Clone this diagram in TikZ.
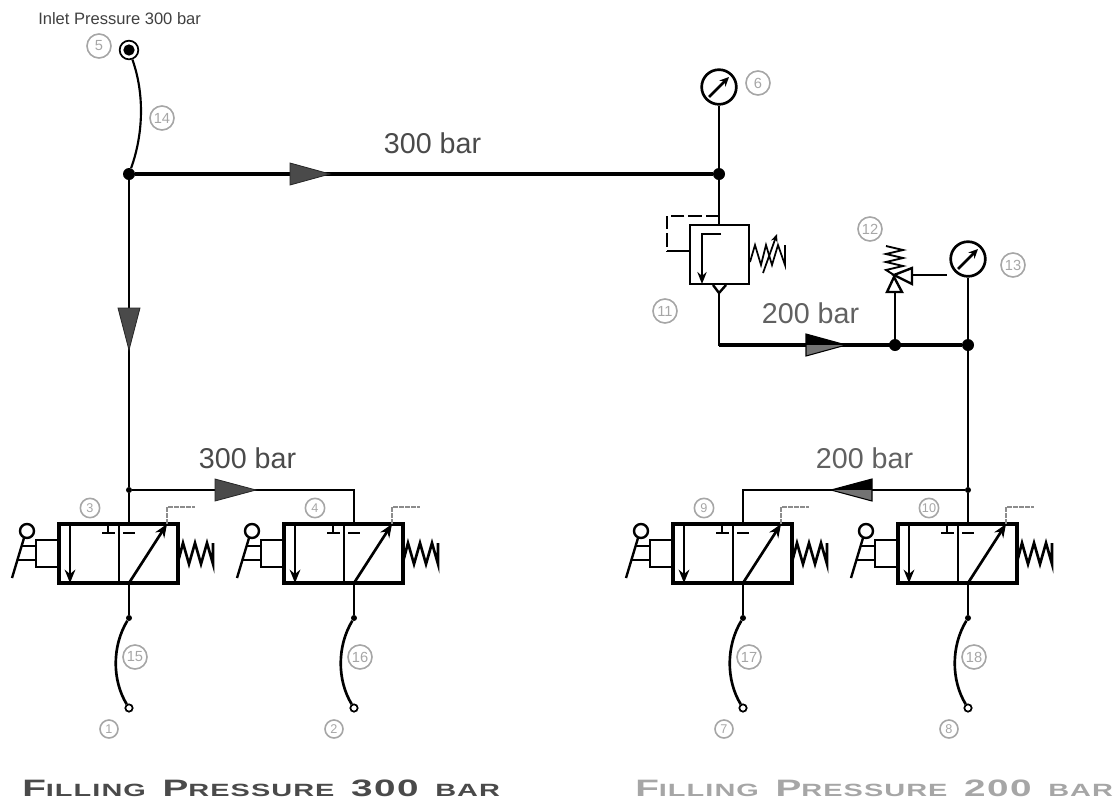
\documentclass[tikz,border=0pt]{standalone}
\usepackage{fontspec}
\setmainfont{Liberation Sans}
\newfontfamily\titlefont[FakeStretch=1.63,LetterSpace=6]{Liberation Sans}
\usetikzlibrary{arrows.meta}
\definecolor{tagc}{HTML}{A6A6A6}
\definecolor{tipc}{HTML}{4A4A4A}
\newcommand\capsmall[2]{{\fontsize{17.8}{18}\selectfont #1}{\fontsize{13.3}{14}\selectfont #2}}
\newcommand\wordgap{\hspace{12.5pt}}
\tikzset{
  wire/.style={line width=2.7pt,black},
  thin wire/.style={line width=2.2pt,black},
  sym/.style={line width=1.8pt,black,line join=miter},
  hose/.style={line width=2pt,black},
  tag/.style={circle,draw=tagc,line width=1.2pt,text=tagc,inner sep=0pt,minimum size=18pt,font=\fontsize{11}{12}\selectfont},
  tagm/.style={tag,minimum size=14.5pt,font=\fontsize{9.5}{10}\selectfont},
  tags/.style={tag,minimum size=13.5pt,font=\fontsize{9.5}{10}\selectfont},
  junction/.style={circle,fill=black,inner sep=0pt,minimum size=9pt},
  smalldot/.style={circle,fill=black,inner sep=0pt,minimum size=4.5pt},
  opendot/.style={circle,draw=black,fill=white,line width=1.3pt,inner sep=0pt,minimum size=5.5pt},
  gauge/.style={circle,draw=black,line width=2pt,fill=white,inner sep=0pt,minimum size=26pt},
  flow/.style={fill=tipc,draw=black!85,line width=0.6pt,line join=miter},
  press/.style={text=tipc,font=\fontsize{21.5}{22}\selectfont,inner sep=0pt},
  press2/.style={text=black!62,font=\fontsize{21.5}{22}\selectfont,inner sep=0pt},
  filltitle/.style={inner sep=0pt,anchor=base west},
  valve/.pic={
    \coordinate (-in) at (129,524);
    \coordinate (-out) at (129,583);
    \draw[line width=2.4pt] (59,524) rectangle (178,583);
    \draw[line width=2.1pt] (119,524) -- (119,583);
    \draw[sym,line width=2pt] (108,524) -- (108,533) (102,533) -- (115,533);
    \draw[sym,line width=2pt] (123,533) -- (135,533);
    \draw[sym,line width=2.2pt,-{Stealth[length=10pt,width=8pt]}] (70,524) -- (70,583);
    \draw[sym,line width=2pt,-{Stealth[length=10pt,width=8pt]}] (129,583) -- (167,524);
    \draw[line width=1.3pt,black!45,dash pattern=on 3.5pt off 1pt] (167,524) -- (167,507) -- (195,507);
    \draw[sym,line width=2pt] (178,562) -- (183,543) -- (189,564) -- (195,543) -- (201,564) -- (207,543) -- (213,564) -- (213,543);
    \draw[sym,line width=2.2pt] (59,540) -- (36,540) -- (36,567) -- (59,567);
    \draw[sym,line width=1.8pt] (27,531) circle[radius=7];
    \draw[sym,line width=1.8pt] (24,538) -- (12,578);
    \draw[sym,line width=1.8pt] (21,546) -- (36,546) (17,560) -- (36,560);
  }
}
\newcommand\gaugeneedle[1]{\draw[line width=2pt,-{Stealth[length=7pt,width=6.5pt]}] ([shift={(-10,10)}]#1.center) -- ([shift={(10,-10)}]#1.center);}
\begin{document}
\begin{tikzpicture}[x=0.75pt,y=-0.75pt]
\useasboundingbox (0,0) rectangle (1118,801);

% valves
\pic (va) at (0,0) {valve};
\pic (vb) at (225,0) {valve};
\pic (vc) at (614,0) {valve};
\pic (vd) at (839,0) {valve};

% nodes
\node[circle,draw=black,fill=white,line width=1.3pt,inner sep=0pt,minimum size=14pt] (port) at (129,50) {};
\node[circle,fill=black,inner sep=0pt,minimum size=8.5pt] (portin) at (129,50) {};
\node[junction] (j1) at (129,174) {};
\node[junction] (j2) at (719,174) {};
\node[gauge] (g6) at (719,87) {};
\node[gauge] (g13) at (968,259) {};
\node[junction] (j3) at (895,345) {};
\node[junction] (j4) at (968,345) {};
\node[smalldot] (j5) at (129,490) {};
\node[smalldot] (j6) at (968,490) {};
\coordinate (c1) at (354,490);
\coordinate (c2) at (743,490);
\coordinate (c3) at (719,345);
\coordinate (r11top) at (719,225);
\coordinate (r11bot) at (719,293);

% main lines
\draw[wire] (j1) -- (j2);
\draw[thin wire] (j1) -- (j5) -- (va-in);
\draw[thin wire] (j5) -- (c1) -- (vb-in);
\draw[thin wire] (g6) -- (j2) -- (r11top);
\draw[thin wire,line cap=rect] (r11bot) -- (c3);
\draw[wire] (c3) -- (j4);
\draw[thin wire] (g13) -- (j4) -- (j6) -- (vd-in);
\draw[thin wire] (j6) -- (c2) -- (vc-in);
\draw[line width=1.6pt] (port) .. controls (145,95) and (143,135) .. (j1);

% flow arrows
\draw[flow] (290,163) -- (330,174) -- (290,185) -- cycle;
\draw[flow] (118,308) -- (140,308) -- (129,350) -- cycle;
\draw[flow] (215,479) -- (256,490) -- (215,501) -- cycle;
\fill[black] (806,334) -- (846,345) -- (806,345) -- cycle;
\fill[black!55] (806,345) -- (846,345) -- (806,356) -- cycle;
\draw[black,line width=0.8pt,line join=miter] (806,334) -- (846,345) -- (806,356) -- cycle;
\fill[black] (872,479) -- (831,490) -- (872,490) -- cycle;
\fill[black!55] (872,490) -- (831,490) -- (872,501) -- cycle;
\draw[black,line width=0.8pt,line join=miter] (872,479) -- (831,490) -- (872,501) -- cycle;

% gauges
\gaugeneedle{g6}
\gaugeneedle{g13}

% pressure regulator 11
\draw[sym] (690,225) rectangle (749,284);
\draw[sym,dash pattern=on 10pt off 3pt] (719,216) -- (667,216) -- (667,251);
\draw[sym] (667,251) -- (690,251);
\draw[sym,-{Stealth[length=9pt,width=7pt]}] (721,234) -- (702,234) -- (702,284);
\draw[sym,fill=white] (713,285) -- (719,293) -- (726,285);
\draw[sym,line width=1.3pt] (750,262) -- (755,245) -- (761,265) -- (766,245) -- (772,265) -- (778,245) -- (785,265) -- (785,245);
\draw[sym,line width=1.3pt,-{Stealth[length=6pt,width=5pt]}] (763,273) -- (777,234);

% relief valve 12
\coordinate (r12a) at (895,292);
\coordinate (r12b) at (947,275);
\draw[thin wire,line width=1.8pt] (j3.center) -- (r12a);
\draw[sym,fill=white] (887,292) -- (894,277) -- (902,292) -- cycle;
\draw[sym,fill=white] (894,275) -- (912,268) -- (912,284) -- cycle;
\draw[thin wire,line width=1.8pt] (912,275) -- (r12b);
\draw[sym,line width=1.4pt] (886,246) -- (903,250) -- (886,254) -- (903,258) -- (886,262) -- (903,266) -- (886,270) -- (894,275);

% hoses
\foreach \v/\x in {va/129,vb/354,vc/743,vd/968}{
  \node[smalldot] (\v dot) at (\x,618) {};
  \node[opendot] (\v end) at (\x,708) {};
  \draw[thin wire] (\v-out) -- (\v dot);
  \draw[hose] (\v dot) .. controls ([shift={(-17,28)}]\v dot.center) and ([shift={(-17,62)}]\v dot.center) .. (\v end);
}

% tags
\node[tag] (t5) at (99,46) {5};
\node[tag] (t14) at (162,118) {14};
\node[tag] (t6) at (758,83) {6};
\node[tag] (t11) at (665,311) {11};
\node[tag] (t12) at (870,229) {12};
\node[tag] (t13) at (1013,265) {13};
\node[tagm] (t3) at (90,508) {3};
\node[tagm] (t4) at (315,508) {4};
\node[tagm] (t9) at (704,508) {9};
\node[tagm] (t10) at (929,508) {10};
\node[tag] (t15) at (135,657) {15};
\node[tag] (t16) at (360,657) {16};
\node[tag] (t17) at (749,657) {17};
\node[tag] (t18) at (974,657) {18};
\node[tags] (t1) at (109,729) {1};
\node[tags] (t2) at (334,729) {2};
\node[tags] (t7) at (724,729) {7};
\node[tags] (t8) at (949,729) {8};

% labels
\node[inner sep=0pt,anchor=west,text=black!75,font=\fontsize{12.4}{13}\selectfont] (inlet) at (38,19) {Inlet Pressure 300 bar};
\node[press] (p1) at (432.5,143) {300 bar};
\node[press] (p2) at (247.5,458) {300 bar};
\node[press2] (p3) at (810.5,313) {200 bar};
\node[press2] (p4) at (864.5,458) {200 bar};
\node[filltitle,text=tipc,font=\titlefont\bfseries] (f1) at (22,796) {\capsmall{F}{ILLING}\wordgap\capsmall{P}{RESSURE}\wordgap\capsmall{300}{}\wordgap\capsmall{}{BAR}};
\node[filltitle,text=black!35,font=\titlefont\bfseries] (f2) at (635,796) {\capsmall{F}{ILLING}\wordgap\capsmall{P}{RESSURE}\wordgap\capsmall{200}{}\wordgap\capsmall{}{BAR}};
\end{tikzpicture}
\end{document}
